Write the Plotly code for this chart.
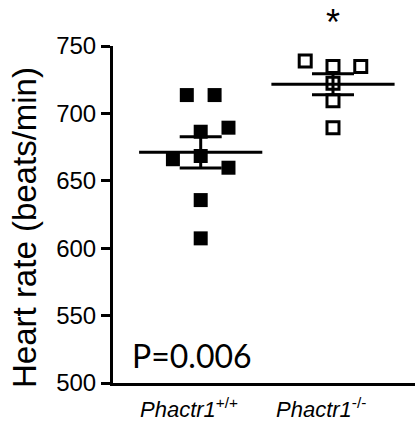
import numpy as np
import plotly.graph_objects as go

# Data
groups = ["Phactr1+/+", "Phactr1-/-"]
label_main = ["Phactr1", "Phactr1"]
label_sup = ["+/+", "-/-"]
wt_values = [713.6, 713.6, 686.4, 689.4, 666.0, 668.4, 659.7, 635.7, 607.3]
wt_offsets = [-0.105, 0.105, 0.0, 0.21, -0.21, 0.0, 0.21, 0.0, 0.0]
ko_values = [738.9, 734.7, 734.7, 722.3, 709.4, 689.4]
ko_offsets = [-0.21, 0.0, 0.21, 0.0, 0.0, 0.0]
p_text = "P=0.006"
star_text = "*"

W, H = 415, 431
L, R, T, B = 113, 0, 46, 48
xr = [-0.663, 1.62]

fig = go.Figure()

fig.add_trace(go.Scatter(
    x=[0 + o for o in wt_offsets], y=wt_values, mode="markers",
    marker=dict(symbol="square", size=14, color="black", line=dict(width=0)),
    showlegend=False, cliponaxis=False))
fig.add_trace(go.Scatter(
    x=[1 + o for o in ko_offsets], y=ko_values, mode="markers",
    marker=dict(symbol="square-open", size=12, color="black", line=dict(width=3)),
    showlegend=False, cliponaxis=False))

for i, vals in enumerate([wt_values, ko_values]):
    v = np.array(vals)
    m = v.mean()
    sem = v.std(ddof=1) / np.sqrt(len(v))
    fig.add_trace(go.Scatter(
        x=[i], y=[m], mode="markers",
        marker=dict(symbol="line-ew", size=88, color="black",
                    line=dict(width=3, color="black")),
        error_y=dict(type="constant", value=sem, width=21, thickness=3, color="black"),
        showlegend=False, cliponaxis=False))

annotations = [
    dict(text="Heart rate (beats/min)", textangle=-90,
         xref="paper", yref="paper", x=(25 - L) / (W - L - R), y=0.46,
         xanchor="center", yanchor="middle", showarrow=False,
         font=dict(size=33, family="Liberation Sans, Arial", color="black")),
    dict(text=p_text, xref="paper", yref="paper",
         x=(130 - L) / (W - L - R), y=(383 - 355) / (383 - 46),
         xanchor="left", yanchor="middle", showarrow=False,
         font=dict(size=32, family="Lato", color="black")),
    dict(text=star_text, xref="x", yref="paper", x=1,
         y=(383 - 23) / (383 - 46), xanchor="center", yanchor="middle",
         showarrow=False,
         font=dict(size=36, family="Liberation Sans, Arial", color="black")),
]
for i in range(len(groups)):
    annotations.append(dict(
        text="<i>%s</i><sup>%s</sup>" % (label_main[i], label_sup[i]),
        xref="x", yref="paper", x=i, y=0, yshift=-25, xshift=-12,
        xanchor="center", yanchor="middle", showarrow=False,
        font=dict(size=22, family="Liberation Sans, Arial", color="black")))

fig.update_layout(
    width=W, height=H,
    margin=dict(l=L, r=R, t=T, b=B),
    paper_bgcolor="white", plot_bgcolor="white",
    font=dict(family="Liberation Sans, Arial", color="black"),
    xaxis=dict(range=xr, tickvals=[0, 1], showticklabels=False,
               showline=True, linewidth=3, linecolor="black",
               showgrid=False, zeroline=False, ticks=""),
    yaxis=dict(range=[500, 750], tickvals=[500, 550, 600, 650, 700, 750],
               showline=True, linewidth=3, linecolor="black",
               showgrid=False, zeroline=False, ticks="outside",
               ticklen=9, tickwidth=2.5, tickcolor="black",
               tickfont=dict(size=24, color="black")),
    annotations=annotations,
)

fig.write_html("out.html")
